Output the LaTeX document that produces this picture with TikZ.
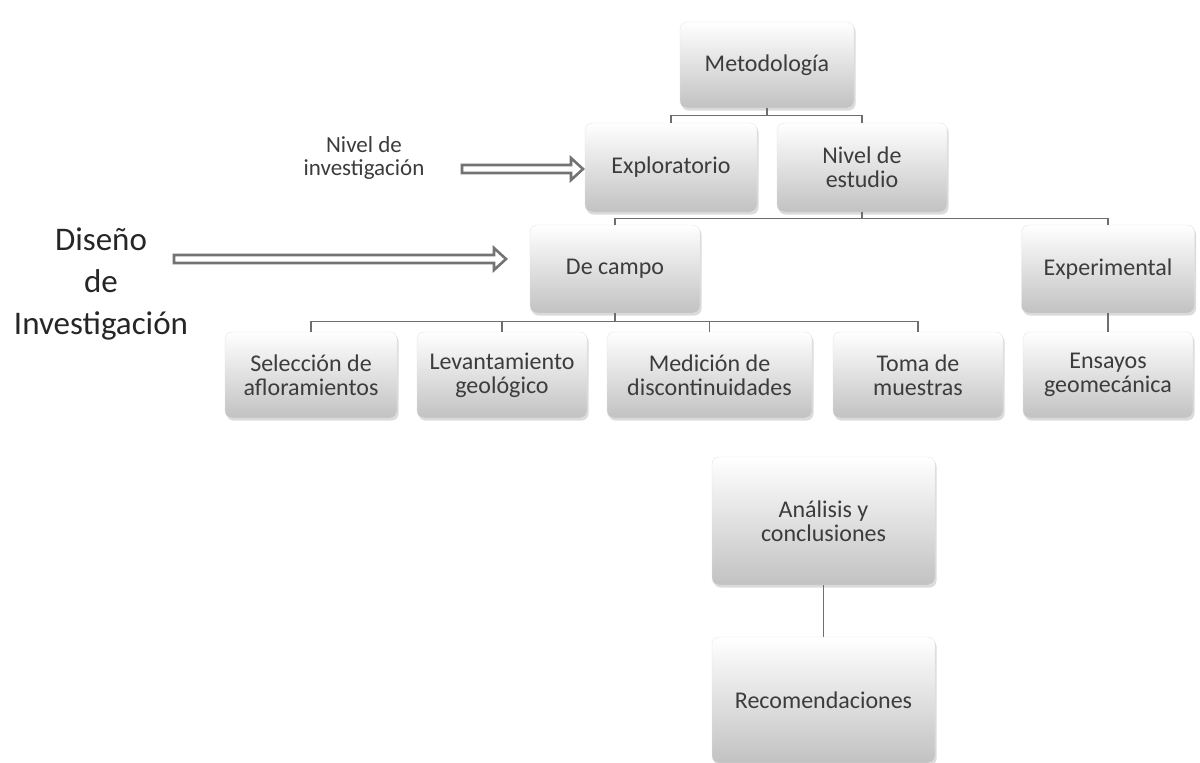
\documentclass[tikz,border=0pt]{standalone}
\usepackage{fontspec}
\setmainfont{Carlito}
\usetikzlibrary{arrows.meta,shadows,calc}
\definecolor{txt}{HTML}{3C3C3C}
\definecolor{lin}{HTML}{6E6E6E}
\tikzset{
  box/.style={rounded corners=7pt, top color=white, bottom color=black!24,
    draw=black!10, align=center, text=txt, font=\fontsize{24}{24}\selectfont,
    drop shadow={shadow xshift=1.5pt, shadow yshift=-2.5pt, opacity=0.28}, inner sep=2pt},
  conn/.style={draw=lin, line width=1.3pt},
  hollow/.style={draw=black!55, fill=white, line width=2.6pt, line join=miter},
  lbl/.style={align=center, text=txt}
}
\begin{document}
\begin{tikzpicture}[x=1pt,y=1pt]
\useasboundingbox[fill=white] (0,0) rectangle (1200,-763);
% boxes
\node[box, minimum width=174pt, minimum height=86pt] (meto) at (767,-65) {Metodología};
\node[box, minimum width=172pt, minimum height=89pt] (expl) at (671,-167.5) {Exploratorio};
\node[box, minimum width=170pt, minimum height=89pt] (nivel) at (862,-167.5) {Nivel de\\estudio};
\node[box, minimum width=170pt, minimum height=88pt] (campo) at (615,-269) {De campo};
\node[box, minimum width=173pt, minimum height=88pt] (exper) at (1108,-269) {Experimental};
\node[box, minimum width=172pt, minimum height=86pt] (sel) at (311,-375) {Selección de\\afloramientos};
\node[box, minimum width=170pt, minimum height=86pt] (lev) at (502,-375) {Levantamiento\\geológico};
\node[box, minimum width=205pt, minimum height=86pt] (med) at (709.5,-375) {Medición de\\discontinuidades};
\node[box, minimum width=170pt, minimum height=86pt] (toma) at (918,-375) {Toma de\\muestras};
\node[box, minimum width=170pt, minimum height=86pt] (ens) at (1108,-375) {Ensayos\\geomecánica};
\node[box, minimum width=223pt, minimum height=128pt] (anal) at (823.5,-521) {Análisis y\\conclusiones};
\node[box, minimum width=223pt, minimum height=126pt] (rec) at (823.5,-700) {Recomendaciones};
% labels
\node[lbl, font=\fontsize{23}{23}\selectfont] (nivinv) at (364,-158) {Nivel de\\investigación};
\node[lbl, text=black!85, font=\fontsize{33}{42}\selectfont] (dis) at (101,-284) {Diseño\\de\\Investigación};
% connectors
\draw[conn] (meto.south) -- ++(0,-7) -| (expl.north);
\draw[conn] (meto.south) -- ++(0,-7) -| (nivel.north);
\draw[conn] (nivel.south) -- ++(0,-6) -| (campo.north);
\draw[conn] (nivel.south) -- ++(0,-6) -| (exper.north);
\draw[conn] (campo.south) -- ++(0,-8) -| (sel.north);
\draw[conn] (campo.south) -- ++(0,-8) -| (lev.north);
\draw[conn] (campo.south) -- ++(0,-8) -| (med.north);
\draw[conn] (campo.south) -- ++(0,-8) -| (toma.north);
\draw[conn] (exper.south) -- (ens.north);
\draw[conn] (anal.south) -- (rec.north);
% hollow arrows
\coordinate (a1s) at (462,-169);
\coordinate (a1e) at (583,-169);
\coordinate (a2s) at (174,-259);
\coordinate (a2e) at (506,-259);
\draw[hollow] ($(a1s)+(0,4)$) -- ($(a1e)+(-12,4)$) -- ++(0,7) -- (a1e)
  -- ($(a1e)+(-12,-11)$) -- ++(0,7) -- ($(a1s)+(0,-4)$) -- cycle;
\draw[hollow] ($(a2s)+(0,4)$) -- ($(a2e)+(-12,4)$) -- ++(0,7) -- (a2e)
  -- ($(a2e)+(-12,-11)$) -- ++(0,7) -- ($(a2s)+(0,-4)$) -- cycle;
\end{tikzpicture}
\end{document}
